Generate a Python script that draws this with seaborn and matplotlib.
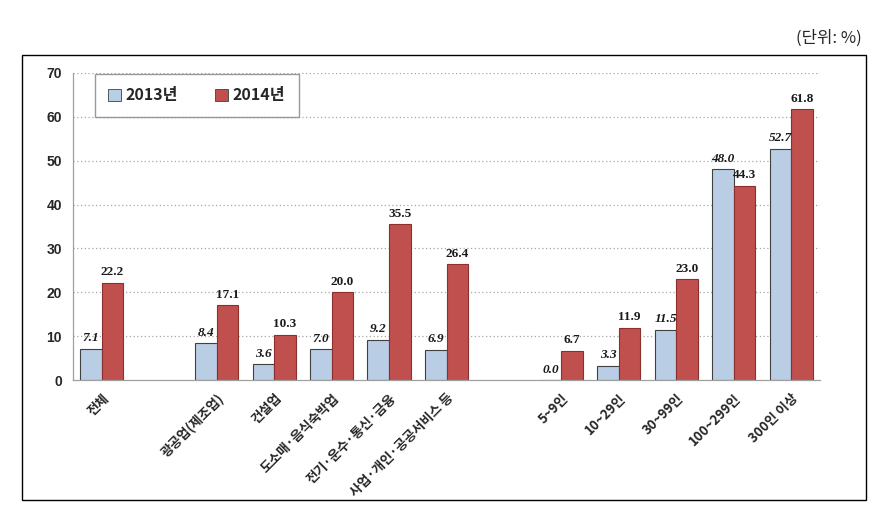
import matplotlib
matplotlib.use("Agg")
import matplotlib.pyplot as plt
import seaborn as sns
import pandas as pd
import numpy as np
from matplotlib.patches import Rectangle
from matplotlib.ticker import FixedLocator

categories = ["전체", "광공업(제조업)", "건설업", "도소매·음식숙박업", "전기·운수·통신·금융",
              "사업·개인·공공서비스 등", "5~9인", "10~29인", "30~99인", "100~299인", "300인 이상"]
order = ["전체", " ", "광공업(제조업)", "건설업", "도소매·음식숙박업", "전기·운수·통신·금융",
         "사업·개인·공공서비스 등", "  ", "5~9인", "10~29인", "30~99인", "100~299인", "300인 이상"]
values_2013 = [7.1, 8.4, 3.6, 7.0, 9.2, 6.9, 0.0, 3.3, 11.5, 48.0, 52.7]
values_2014 = [22.2, 17.1, 10.3, 20.0, 35.5, 26.4, 6.7, 11.9, 23.0, 44.3, 61.8]
series = ["2013년", "2014년"]
yticks = [0, 10, 20, 30, 40, 50, 60, 70]

df = pd.DataFrame({
    "category": categories * 2,
    "value": values_2013 + values_2014,
    "year": [series[0]] * len(categories) + [series[1]] * len(categories),
})

sns.set_style("white")
plt.rcParams['font.family'] = ['Noto Sans CJK KR', 'DejaVu Sans']

fig = plt.figure(figsize=(8.8, 5.17), dpi=100)
ax = fig.add_axes([73/880, 1-380/517, (820-73)/880, (380-73)/517])

palette = {"2013년": "#b9cde5", "2014년": "#c0504d"}
sns.barplot(data=df, x="category", y="value", hue="year", order=order,
            hue_order=series, palette=palette, width=0.75, gap=0,
            ax=ax, saturation=1, legend=True)

# edges
for cont, ec in zip(ax.containers, ["#404040", "#8b2f2c"]):
    for bar in cont:
        bar.set_edgecolor(ec)
        bar.set_linewidth(0.8)

# data labels
for cont, style in zip(ax.containers, ["italic", "normal"]):
    for bar in cont:
        h = bar.get_height()
        if np.isnan(h):
            continue
        ax.text(bar.get_x() + bar.get_width()/2, h + 1.0, f"{h:.1f}",
                ha="center", va="bottom", fontsize=9.5, fontstyle=style,
                fontweight="bold", family="Liberation Serif", color="#1a1a1a")

ax.set_ylim(0, 70)
ax.set_xlim(-0.5, len(order) - 0.5)
ax.set_yticks(yticks)
ax.set_yticklabels([str(t) for t in yticks], fontsize=10, fontweight="bold",
                   family=["Liberation Sans", "DejaVu Sans"])
ax.set_xlabel("")
ax.set_ylabel("")

ax.set_xticks(range(len(order)))
ax.set_xticklabels(order, rotation=45, ha="right", rotation_mode="anchor",
                   fontsize=9.5, fontweight="bold")
ax.tick_params(axis="x", which="major", length=0, pad=8)
ax.xaxis.set_minor_locator(FixedLocator(np.arange(-0.5, len(order), 1.0)))
ax.tick_params(axis="x", which="minor", length=5, color="#a0a0a0", width=0.8, direction="out")
ax.tick_params(axis="y", length=4, color="#a0a0a0", width=0.8, direction="out", pad=4)

for yv in yticks[1:]:
    ax.axhline(yv, color="#a6a6a6", linestyle=(0, (1, 2)), linewidth=0.9, zorder=0)

sns.despine(ax=ax, top=True, right=True)
for s in ["left", "bottom"]:
    ax.spines[s].set_color("#a0a0a0")
    ax.spines[s].set_linewidth(0.9)

leg = ax.legend(loc="upper left", bbox_to_anchor=(0.029, 0.997), ncol=2,
                frameon=True, fancybox=False, edgecolor="#808080",
                prop={"weight": "bold", "size": 11.5, "family": ["Noto Sans CJK KR", "DejaVu Sans"]},
                handlelength=0.8, handleheight=0.8, handletextpad=0.3,
                columnspacing=2.3, borderpad=0.85, borderaxespad=0, title=None)
leg.get_frame().set_linewidth(1.0)
for hnd in leg.legend_handles:
    hnd.set_edgecolor("#404040")
    hnd.set_linewidth(0.6)

# outer frame
fig.patches.append(Rectangle((22/880, 1-500/517), (866-22)/880, (500-55)/517,
                             transform=fig.transFigure, fill=False,
                             edgecolor="black", linewidth=1.0))
fig.text(862/880, 1-38/517, "(단위: %)", ha="right", va="center", fontsize=12)

fig.savefig("out.png", dpi=100)
